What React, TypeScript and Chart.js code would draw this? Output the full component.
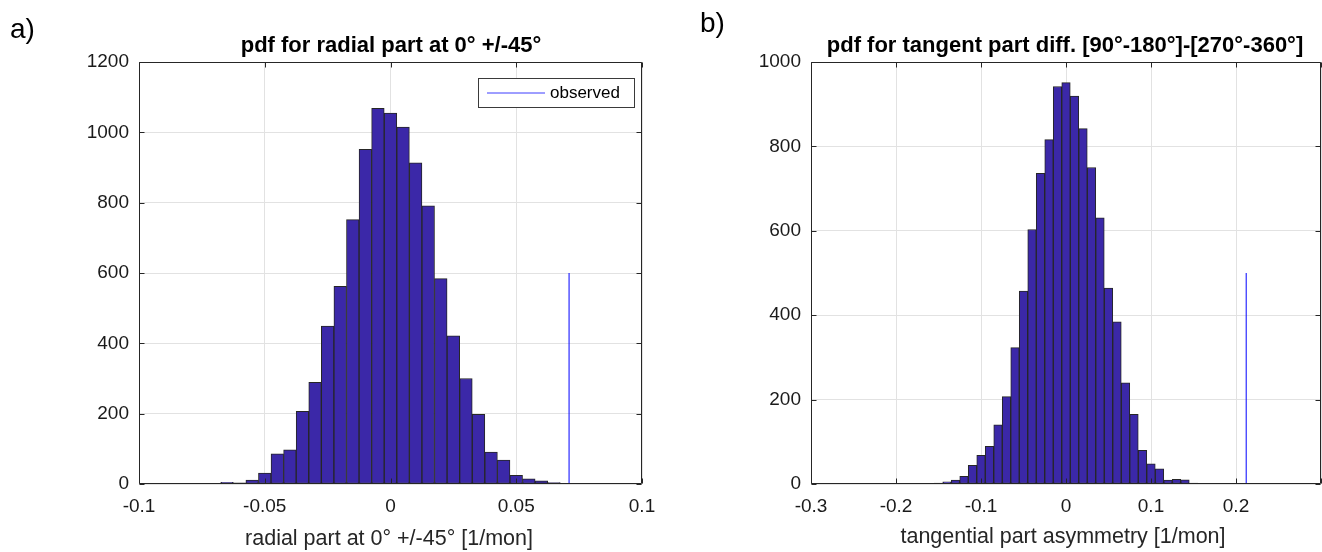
import React, { useEffect, useRef } from 'react';
import { Chart, registerables } from 'chart.js';

Chart.register(...registerables);

// ---------- data: panel a (radial part) ----------
const radialBins = [
  -0.085, -0.08, -0.075, -0.07, -0.065, -0.06, -0.055, -0.05, -0.045, -0.04,
  -0.035, -0.03, -0.025, -0.02, -0.015, -0.01, -0.005, 0, 0.005, 0.01,
  0.015, 0.02, 0.025, 0.03, 0.035, 0.04, 0.045, 0.05, 0.055, 0.06, 0.065, 0.07,
];
const radialCounts = [
  1, 0, 0, 1, 5, 3, 11, 31, 86, 97,
  207, 289, 449, 562, 752, 952, 1068, 1055, 1015, 913,
  791, 584, 421, 300, 198, 91, 68, 25, 15, 9, 4, 2,
];
const radialObservedX = 0.071;
const radialObservedTop = 600;
const radialXTicks = [-0.1, -0.05, 0, 0.05, 0.1];
const radialYTicks = [0, 200, 400, 600, 800, 1000, 1200];

// ---------- data: panel b (tangential part) ----------
const tangentBins = [
  -0.17, -0.16, -0.15, -0.14, -0.13, -0.12, -0.11, -0.1, -0.09, -0.08,
  -0.07, -0.06, -0.05, -0.04, -0.03, -0.02, -0.01, 0, 0.01, 0.02,
  0.03, 0.04, 0.05, 0.06, 0.07, 0.08, 0.09, 0.1, 0.11, 0.12,
  0.13, 0.14, 0.15, 0.16,
];
const tangentCounts = [
  1, 1, 2, 5, 9, 18, 44, 68, 89, 140,
  207, 323, 457, 603, 736, 816, 942, 951, 919, 842,
  750, 631, 464, 384, 240, 165, 80, 48, 36, 9,
  11, 10, 2, 1,
];
const tangentObservedX = 0.212;
const tangentObservedTop = 500;
const tangentXTicks = [-0.3, -0.2, -0.1, 0, 0.1, 0.2, 0.3];
const tangentYTicks = [0, 200, 400, 600, 800, 1000];

const FONT = '"Liberation Sans", Arial, Helvetica, sans-serif';
const BAR = '#3b28a8';
const EDGE = '#262626';
const AXIS = '#262626';
const GRID = '#e2e2e2';
const OBS = '#0000ff';

type PanelProps = {
  left: number;
  width: number;
  plotLeft: number;
  plotRight: number;
  bins: number[];
  counts: number[];
  obsX: number;
  obsTop: number;
  xTicks: number[];
  yTicks: number[];
  hiddenX: number[];
  title: string;
  titleCx: number;
  xLabel: string;
  xLabelCx: number;
  xLabelBase: number;
  letter: string;
  letterX: number;
  letterBase: number;
  legend: boolean;
};

function Panel(p: PanelProps) {
  const ref = useRef<HTMLCanvasElement | null>(null);
  useEffect(() => {
    const canvas = ref.current;
    if (!canvas) return;
    const xMin = p.xTicks[0];
    const xMax = p.xTicks[p.xTicks.length - 1];
    const yMax = p.yTicks[p.yTicks.length - 1];

    const overlay = {
      id: 'overlay',
      afterDraw(chart: any) {
        const { ctx, chartArea: a, scales } = chart;
        ctx.save();
        ctx.strokeStyle = AXIS;
        ctx.lineWidth = 1;
        const L = Math.round(a.left) + 0.5;
        const R = Math.round(a.right) - 0.5;
        const T = Math.round(a.top) + 0.5;
        const B = Math.round(a.bottom) - 0.5;
        ctx.beginPath();
        ctx.rect(L, T, R - L, B - T);
        ctx.stroke();
        const tl = 5;
        ctx.beginPath();
        for (const v of p.xTicks) {
          const px = Math.round(scales.x.getPixelForValue(v)) + 0.5;
          ctx.moveTo(px, B);
          ctx.lineTo(px, B - tl);
          ctx.moveTo(px, T);
          ctx.lineTo(px, T + tl);
        }
        for (const v of p.yTicks) {
          const py = Math.round(scales.y.getPixelForValue(v)) + 0.5;
          ctx.moveTo(L, py);
          ctx.lineTo(L + tl, py);
          ctx.moveTo(R, py);
          ctx.lineTo(R - tl, py);
        }
        ctx.stroke();

        // title
        ctx.fillStyle = '#000';
        ctx.textAlign = 'center';
        ctx.textBaseline = 'alphabetic';
        ctx.font = `bold 22px ${FONT}`;
        ctx.fillText(p.title, p.titleCx, 52);

        // x label
        ctx.fillStyle = '#262626';
        ctx.font = `21.5px ${FONT}`;
        ctx.fillText(p.xLabel, p.xLabelCx, p.xLabelBase);

        // panel letter
        ctx.fillStyle = '#000';
        ctx.textAlign = 'left';
        ctx.font = `28px ${FONT}`;
        ctx.fillText(p.letter, p.letterX, p.letterBase);

        // legend
        if (p.legend) {
          const bx = 478.5, by = 78.5, bw = 156, bh = 29;
          ctx.fillStyle = '#fff';
          ctx.fillRect(bx, by, bw, bh);
          ctx.strokeStyle = '#3a3a3a';
          ctx.strokeRect(bx, by, bw, bh);
          const cy = Math.round(by + bh / 2);
          ctx.strokeStyle = '#3c3cff';
          ctx.beginPath();
          ctx.moveTo(487, cy);
          ctx.lineTo(545, cy);
          ctx.stroke();
          ctx.fillStyle = '#000';
          ctx.font = `17px ${FONT}`;
          ctx.textBaseline = 'middle';
          ctx.fillText('observed', 550, cy);
        }
        ctx.restore();
      },
    };

    const chart = new Chart(canvas, {
      type: 'bar',
      data: {
        datasets: [
          {
            type: 'bar',
            data: p.bins.map((b, i) => ({ x: b, y: p.counts[i] })),
            backgroundColor: BAR,
            borderColor: EDGE,
            borderWidth: 1,
            borderSkipped: false,
            barPercentage: 1,
            categoryPercentage: 1,
            grouped: false,
            order: 2,
          } as any,
          {
            type: 'line',
            data: [
              { x: p.obsX, y: 0 },
              { x: p.obsX, y: p.obsTop },
            ],
            borderColor: OBS,
            borderWidth: 1,
            pointRadius: 0,
            fill: false,
            order: 1,
          } as any,
        ],
      },
      options: {
        animation: false,
        responsive: false,
        maintainAspectRatio: false,
        layout: { padding: { top: 62, right: p.width - p.plotRight, left: 0, bottom: 0 } },
        plugins: {
          legend: { display: false },
          tooltip: { enabled: false },
          title: { display: false },
        },
        scales: {
          x: {
            type: 'linear',
            offset: false,
            min: xMin,
            max: xMax,
            afterBuildTicks: (s: any) => {
              s.ticks = p.xTicks.map((v) => ({ value: v }));
            },
            afterFit: (s: any) => {
              s.height = 552 - 484;
              s.paddingLeft = 0;
              s.paddingRight = 0;
            },
            grid: { color: GRID, drawTicks: false, offset: false },
            border: { display: false },
            ticks: {
              autoSkip: false,
              maxRotation: 0,
              padding: 11,
              color: '#1a1a1a',
              font: { family: FONT, size: 19 },
              callback: (v: any) => (p.hiddenX.includes(Number(v)) ? '' : String(Number(v))),
            },
          },
          y: {
            type: 'linear',
            min: 0,
            max: yMax,
            afterBuildTicks: (s: any) => {
              s.ticks = p.yTicks.map((v) => ({ value: v }));
            },
            afterFit: (s: any) => {
              s.width = p.plotLeft;
              s.paddingTop = 0;
              s.paddingBottom = 0;
            },
            grid: { color: GRID, drawTicks: false },
            border: { display: false },
            ticks: {
              padding: 10,
              color: '#1a1a1a',
              font: { family: FONT, size: 19 },
              callback: (v: any) => String(Number(v)),
            },
          },
        },
      } as any,
      plugins: [overlay],
    });
    return () => chart.destroy();
  }, []);

  return (
    <canvas
      ref={ref}
      width={p.width}
      height={552}
      style={{ position: 'absolute', left: p.left, top: 0, width: p.width, height: 552 }}
    />
  );
}

export default function App() {
  return (
    <div style={{ position: 'absolute', left: 0, top: 0, width: 1322, height: 552, background: '#fff', overflow: 'hidden' }}>
      <Panel
        left={0}
        width={660}
        plotLeft={139}
        plotRight={642}
        bins={radialBins}
        counts={radialCounts}
        obsX={radialObservedX}
        obsTop={radialObservedTop}
        xTicks={radialXTicks}
        yTicks={radialYTicks}
        hiddenX={[]}
        title="pdf for radial part at 0° +/-45°"
        titleCx={391}
        xLabel="radial part at 0° +/-45° [1/mon]"
        xLabelCx={389}
        xLabelBase={545}
        letter="a)"
        letterX={10}
        letterBase={38}
        legend={true}
      />
      <Panel
        left={660}
        width={662}
        plotLeft={151}
        plotRight={661}
        bins={tangentBins}
        counts={tangentCounts}
        obsX={tangentObservedX}
        obsTop={tangentObservedTop}
        xTicks={tangentXTicks}
        yTicks={tangentYTicks}
        hiddenX={[0.3]}
        title="pdf for tangent part diff. [90°-180°]-[270°-360°]"
        titleCx={405}
        xLabel="tangential part asymmetry [1/mon]"
        xLabelCx={403}
        xLabelBase={543}
        letter="b)"
        letterX={40}
        letterBase={32}
        legend={false}
      />
    </div>
  );
}
